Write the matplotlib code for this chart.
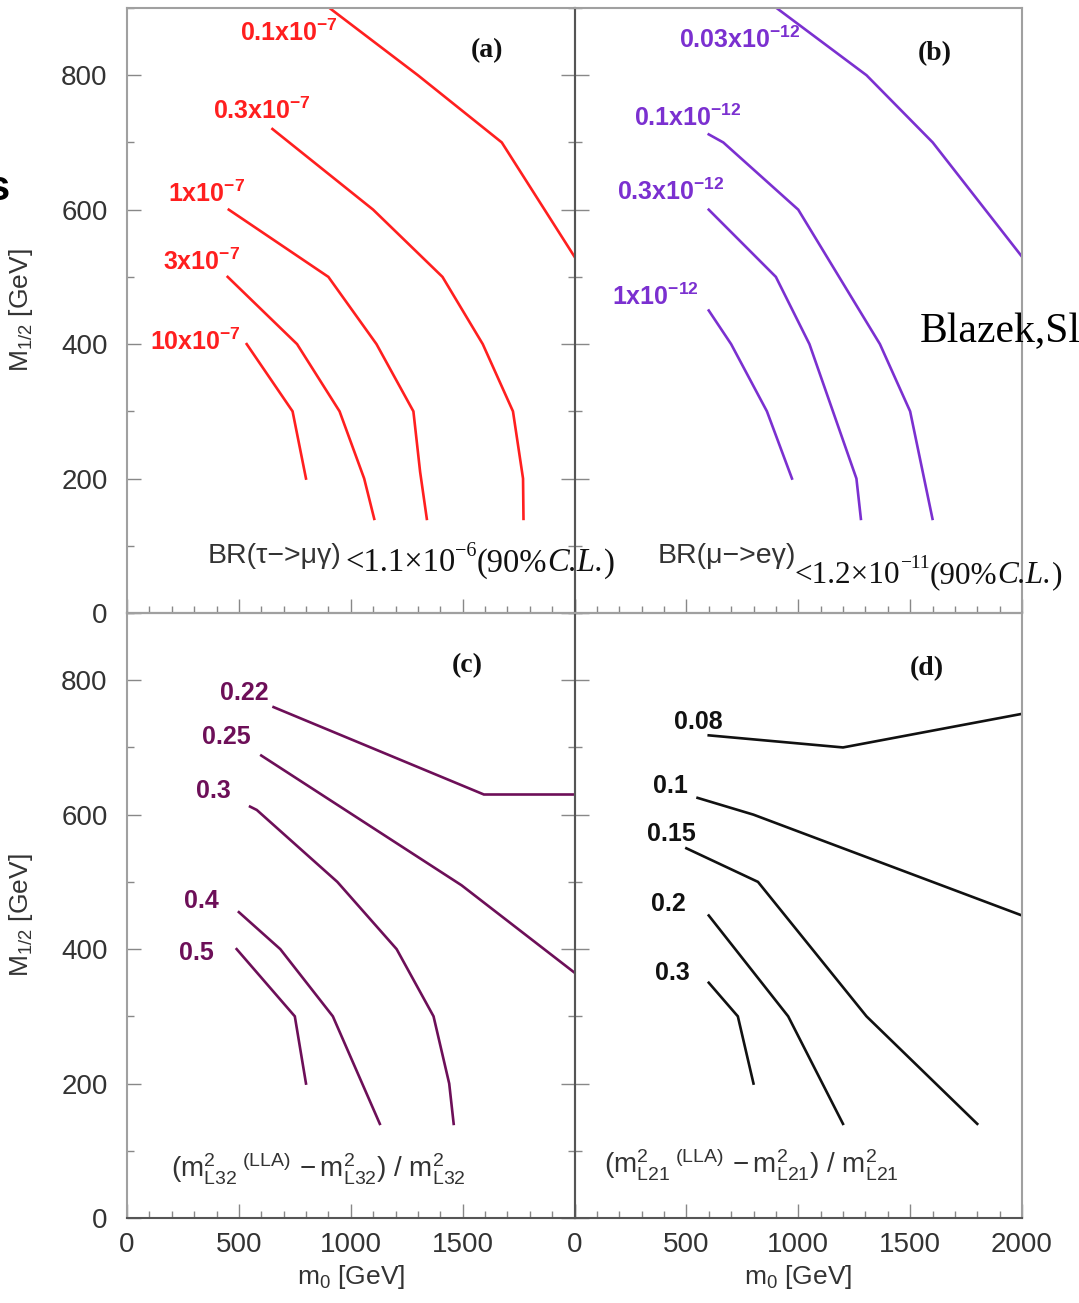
import matplotlib
matplotlib.use("Agg")
import matplotlib.pyplot as plt
from matplotlib.ticker import MultipleLocator
from matplotlib.transforms import IdentityTransform

plt.rcParams['font.family'] = ['Liberation Sans', 'DejaVu Sans']
plt.rcParams['mathtext.fontset'] = 'custom'
plt.rcParams['mathtext.rm'] = 'Liberation Sans'
plt.rcParams['mathtext.bf'] = 'Liberation Sans:bold'
plt.rcParams['mathtext.it'] = 'Liberation Sans:italic'
plt.rcParams['mathtext.sf'] = 'Liberation Sans'

# contour lines in the (m0, M1/2) plane, GeV
# (a) BR(tau -> mu gamma)
a_labels = ['0.1x10$^{\\mathbf{-7}}$', '0.3x10$^{\\mathbf{-7}}$', '1x10$^{\\mathbf{-7}}$',
            '3x10$^{\\mathbf{-7}}$', '10x10$^{\\mathbf{-7}}$']
a_m0 = [[905, 1300, 1675, 2000],
        [650, 1100, 1410, 1590, 1725, 1770, 1772],
        [455, 900, 1115, 1280, 1310, 1340],
        [450, 760, 950, 1060, 1105],
        [535, 740, 800]]
a_m12 = [[900, 800, 700, 530],
         [720, 600, 500, 400, 300, 200, 140],
         [600, 500, 400, 300, 210, 140],
         [500, 400, 300, 200, 140],
         [400, 300, 200]]

# (b) BR(mu -> e gamma)
b_labels = ['0.03x10$^{\\mathbf{-12}}$', '0.1x10$^{\\mathbf{-12}}$',
            '0.3x10$^{\\mathbf{-12}}$', '1x10$^{\\mathbf{-12}}$']
b_m0 = [[903, 1305, 1601, 2000],
        [600, 665, 1000, 1365, 1500, 1600],
        [600, 900, 1050, 1260, 1280],
        [600, 700, 860, 972]]
b_m12 = [[900, 800, 700, 530],
         [712, 700, 600, 400, 300, 140],
         [600, 500, 400, 200, 140],
         [450, 400, 300, 200]]

# (c) (m2_L32^(LLA) - m2_L32) / m2_L32
c_labels = ['0.22', '0.25', '0.3', '0.4', '0.5']
c_m0 = [[655, 1595, 2000],
        [600, 1495, 2000],
        [550, 580, 940, 1205, 1370, 1440, 1460],
        [500, 685, 920, 1130],
        [490, 750, 800]]
c_m12 = [[760, 630, 630],
         [688, 495, 365],
         [612, 607, 500, 400, 300, 200, 140],
         [455, 400, 300, 140],
         [400, 300, 200]]

# (d) (m2_L21^(LLA) - m2_L21) / m2_L21
d_labels = ['0.08', '0.1', '0.15', '0.2', '0.3']
d_m0 = [[600, 1200, 2000],
        [550, 800, 2000],
        [500, 820, 1305, 1800],
        [600, 955, 1200],
        [600, 730, 800]]
d_m12 = [[718, 700, 750],
         [625, 600, 450],
         [550, 500, 300, 140],
         [450, 300, 140],
         [350, 300, 200]]

x_ticks = [0, 500, 1000, 1500, 2000]
y_ticks = [0, 200, 400, 600, 800]

# experimental bounds written under panels (a) and (b)
tau_bound = ('1.1', '\u22126')
mu_bound = ('1.2', '\u221211')

# where each contour label sits (left edge, baseline) in data units
a_pos = [(505, 851), (384, 735), (183, 611), (161, 510), (103, 391)]
b_pos = [(469, 840), (264, 724), (192, 614), (166, 458)]
c_pos = [(416, 770), (335, 705), (308, 625), (255, 461), (233, 384)]
d_pos = [(443, 727), (349, 632), (322, 561), (344, 457), (358, 354)]

panels = [
    ('(a)', a_m0, a_m12, a_labels, a_pos, '#ff1f1f', (1609, 827)),
    ('(b)', b_m0, b_m12, b_labels, b_pos, '#7b30d0', (1609, 822)),
    ('(c)', c_m0, c_m12, c_labels, c_pos, '#6d0f58', (1520, 812)),
    ('(d)', d_m0, d_m12, d_labels, d_pos, '#111111', (1574, 807)),
]

fig = plt.figure(figsize=(10.79, 13.03), dpi=100)
renderer = fig.canvas.get_renderer()
L, W, H = 127 / 1079, 447.5 / 1079, 605 / 1303
B_low, B_up = 85 / 1303, 690 / 1303
boxes = [[L, B_up, W, H], [L + W, B_up, W, H], [L, B_low, W, H], [L + W, B_low, W, H]]


def chain_text(ax, x, y, pieces, size):
    """Write serif pieces one after another on a common baseline."""
    px, py = ax.transData.transform((x, y))
    for s, scale, italic, rise in pieces:
        t = ax.text(px, py + rise, s, transform=IdentityTransform(),
                    family='Liberation Serif', fontsize=size * scale,
                    style='italic' if italic else 'normal', color='#111111',
                    ha='left', va='baseline', clip_on=False)
        px = t.get_window_extent(renderer).x1


def bound_pieces(value, power):
    return [('<' + value + '\u00d710', 1.0, False, 0),
            (power, 0.62, False, 15),
            ('(90%', 1.0, False, 0),
            ('C.L.', 1.0, True, 0),
            (')', 1.0, False, 0)]


tick_color = '#333333'
for i, (tag, xs, ys, labels, pos, color, tag_pos) in enumerate(panels):
    ax = fig.add_axes(boxes[i])
    ax.set_facecolor('none')
    ax.set_xlim(0, 2000)
    ax.set_ylim(0, 900)
    for x, y in zip(xs, ys):
        ax.plot(x, y, color=color, lw=1.9, solid_joinstyle='miter')
    for lab, (px, py) in zip(labels, pos):
        ax.text(px, py, lab, color=color, fontsize=18, fontweight='bold',
                ha='left', va='baseline')
    ax.text(tag_pos[0], tag_pos[1], tag, fontsize=20, fontweight='bold',
            family='Liberation Serif', ha='center', va='baseline', color='#111111')

    for s in ax.spines.values():
        s.set_color('#a0a0a0')
        s.set_linewidth(1.5)
    ax.spines['bottom'].set_color('#555555')
    if i % 2 == 1:
        ax.spines['left'].set_color('#555555')

    ax.xaxis.set_major_locator(MultipleLocator(500))
    ax.xaxis.set_minor_locator(MultipleLocator(100))
    ax.yaxis.set_major_locator(MultipleLocator(200))
    ax.yaxis.set_minor_locator(MultipleLocator(100))
    ax.tick_params(which='both', direction='in', colors='#888888',
                   labelcolor=tick_color, labelsize=20, top=False,
                   right=(i % 2 == 0))
    ax.tick_params(which='major', length=10, width=1.0)
    ax.tick_params(which='minor', length=5, width=1.0)
    ax.tick_params(axis='x', pad=10)
    ax.tick_params(axis='y', pad=14)

    ax.set_xticks(x_ticks)
    ax.set_yticks(y_ticks)
    if i < 2:
        ax.set_xticklabels([])
    elif i == 2:
        ax.set_xticklabels([str(t) for t in x_ticks[:-1]] + [''])
    else:
        ax.set_xticklabels([str(t) for t in x_ticks])
    if i % 2 == 1:
        ax.set_yticklabels([])
    else:
        ax.set_yticklabels([str(t) for t in y_ticks])
        ax.set_ylabel('M$_{1/2}$ [GeV]', fontsize=19, color=tick_color)
        ax.yaxis.set_label_coords(-0.205, 0.5)
    if i >= 2:
        ax.set_xlabel('m$_0$ [GeV]', fontsize=19, color=tick_color)
        ax.xaxis.set_label_coords(0.5, -0.075)

    if i == 0:
        ax.text(362, 74, 'BR(\u03c4\u2212>\u03bc\u03b3)', fontsize=20.5, color='#333333',
                ha='left', va='baseline', clip_on=False)
        chain_text(ax, 975, 62, bound_pieces(*tau_bound), 23.5)
    elif i == 1:
        ax.text(371, 74, 'BR(\u03bc\u2212>e\u03b3)', fontsize=20.5, color='#333333',
                ha='left', va='baseline', clip_on=False)
        chain_text(ax, 985, 45, bound_pieces(*mu_bound), 22.5)
    elif i == 2:
        ax.text(197, 61, '$(\\mathrm{m}^{2}_{\\mathrm{L32}}{}^{\\ (\\mathrm{LLA})}\\,'
                '-\\mathrm{m}^{2}_{\\mathrm{L32}})\\ /\\ \\mathrm{m}^{2}_{\\mathrm{L32}}$',
                fontsize=20, color='#333333', ha='left', va='baseline')
    else:
        ax.text(134, 68, '$(\\mathrm{m}^{2}_{\\mathrm{L21}}{}^{\\ (\\mathrm{LLA})}\\,'
                '-\\mathrm{m}^{2}_{\\mathrm{L21}})\\ /\\ \\mathrm{m}^{2}_{\\mathrm{L21}}$',
                fontsize=20, color='#333333', ha='left', va='baseline')

# slide text around the figure
fig.text(10 / 1079, 1 - 200 / 1303, 's', fontsize=30, fontweight='bold',
         ha='right', va='baseline', color='black')
fig.text(920 / 1079, 1 - 342 / 1303, 'Blazek,Sl', fontsize=30,
         family='Liberation Serif', ha='left', va='baseline', color='black')

fig.savefig('out.png', dpi=100)
